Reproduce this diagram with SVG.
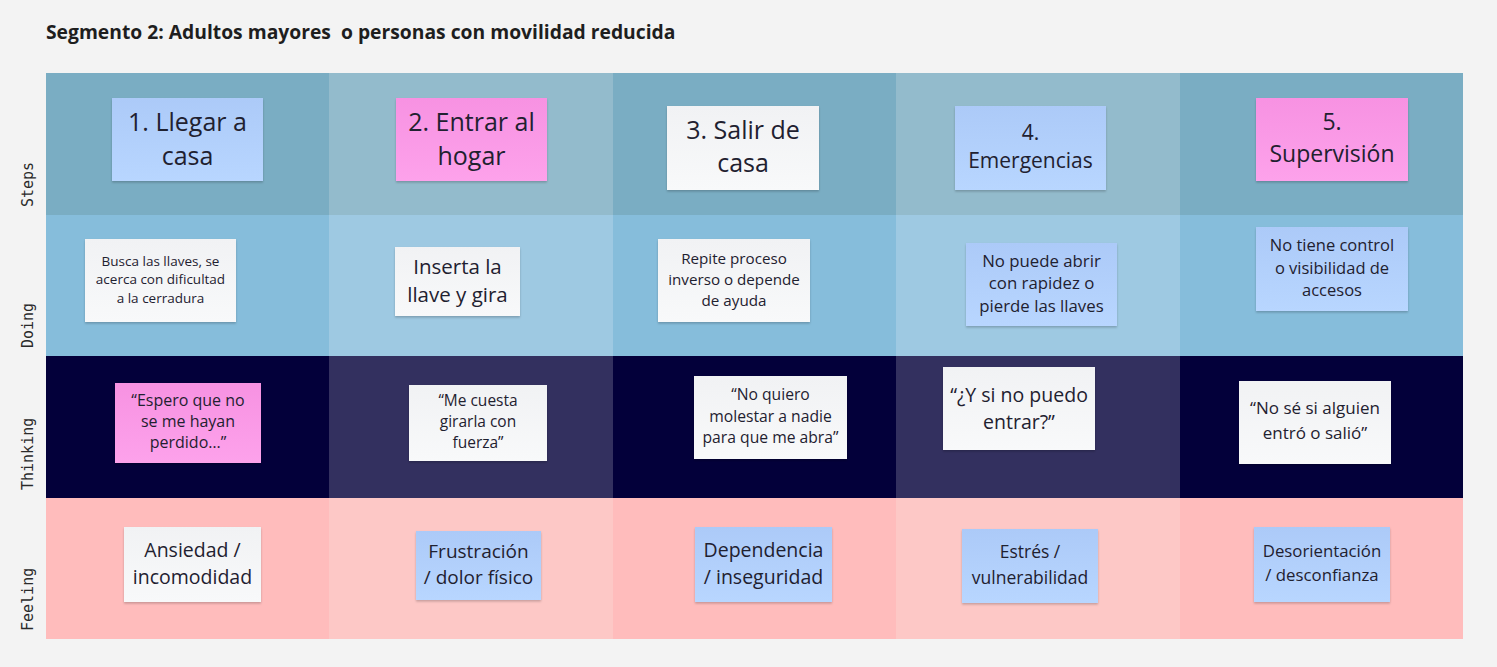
<svg xmlns="http://www.w3.org/2000/svg" width="1497" height="667" viewBox="0 0 1497 667">
<defs>
<linearGradient id="gBlue" x1="0" y1="0" x2="0" y2="1"><stop offset="0" stop-color="#accaf8"/><stop offset="1" stop-color="#b8d6ff"/></linearGradient>
<linearGradient id="gPink" x1="0" y1="0" x2="0" y2="1"><stop offset="0" stop-color="#f792e2"/><stop offset="1" stop-color="#fda2eb"/></linearGradient>
<linearGradient id="gWhite" x1="0" y1="0" x2="0" y2="1"><stop offset="0" stop-color="#f1f2f4"/><stop offset="1" stop-color="#f8f9fa"/></linearGradient>
<filter id="sh" x="-10%" y="-10%" width="120%" height="130%"><feDropShadow dx="0" dy="1.5" stdDeviation="1.2" flood-color="#000" flood-opacity="0.22"/></filter>
<style>
.title{font-family:"Open Sans","Noto Sans",sans-serif;font-weight:700;font-size:19.3px;fill:#1e1e1e;white-space:pre}
.lbl{font-family:"DejaVu Sans Mono","Liberation Mono",monospace;font-size:15px;fill:#2a2a2a}
.t{font-family:"Open Sans","Noto Sans",sans-serif;fill:#1f2130;text-anchor:middle}
.blue{fill:url(#gBlue);filter:url(#sh)}
.pink{fill:url(#gPink);filter:url(#sh)}
.white{fill:url(#gWhite);filter:url(#sh)}
</style>
</defs>
<rect width="1497" height="667" fill="#f3f3f3"/>
<text class="title" x="46" y="39" xml:space="preserve">Segmento 2: Adultos mayores  o personas con movilidad reducida</text>
<g id="grid">
<rect x="46" y="73" width="1417" height="142" fill="#7aadc3"/>
<rect x="329" y="73" width="284" height="142" fill="#93bbcc"/>
<rect x="896" y="73" width="284" height="142" fill="#93bbcc"/>
<rect x="46" y="215" width="1417" height="141" fill="#86bddb"/>
<rect x="329" y="215" width="284" height="141" fill="#9ec9e2"/>
<rect x="896" y="215" width="284" height="141" fill="#9ec9e2"/>
<rect x="46" y="356" width="1417" height="142" fill="#03003a"/>
<rect x="329" y="356" width="284" height="142" fill="#33305f"/>
<rect x="896" y="356" width="284" height="142" fill="#33305f"/>
<rect x="46" y="498" width="1417" height="141" fill="#ffbcbc"/>
<rect x="329" y="498" width="284" height="141" fill="#fdc8c6"/>
<rect x="896" y="498" width="284" height="141" fill="#fdc8c6"/>
</g>
<g id="row-labels">
<text class="lbl" transform="translate(33,207) rotate(-90)">Steps</text>
<text class="lbl" transform="translate(33,348) rotate(-90)">Doing</text>
<text class="lbl" transform="translate(33,490) rotate(-90)">Thinking</text>
<text class="lbl" transform="translate(33,631) rotate(-90)">Feeling</text>
</g>
<g id="connectors"></g>
<g id="s1"><rect class="blue" x="112" y="98" width="151" height="83"/><text class="t" font-size="25"><tspan x="187.5" y="131">1. Llegar a</tspan><tspan x="187.5" y="165">casa</tspan></text></g>
<g id="s2"><rect class="pink" x="396" y="98" width="151" height="83"/><text class="t" font-size="25"><tspan x="471.5" y="131">2. Entrar al</tspan><tspan x="471.5" y="165">hogar</tspan></text></g>
<g id="s3"><rect class="white" x="667" y="106" width="152" height="84"/><text class="t" font-size="25"><tspan x="743" y="138.5">3. Salir de</tspan><tspan x="743" y="172">casa</tspan></text></g>
<g id="s4"><rect class="blue" x="955" y="106" width="151" height="84"/><text class="t" font-size="21"><tspan x="1030.5" y="140">4.</tspan><tspan x="1030.5" y="168">Emergencias</tspan></text></g>
<g id="s5"><rect class="pink" x="1256" y="98" width="152" height="83"/><text class="t" font-size="23"><tspan x="1332" y="130">5.</tspan><tspan x="1332" y="162">Supervisión</tspan></text></g>
<g id="d1"><rect class="white" x="85" y="239" width="151" height="83"/><text class="t" font-size="13.5"><tspan x="160.5" y="266">Busca las llaves, se</tspan><tspan x="160.5" y="284.3">acerca con dificultad</tspan><tspan x="160.5" y="302.6">a la cerradura</tspan></text></g>
<g id="d2"><rect class="white" x="395" y="247" width="125" height="69"/><text class="t" font-size="20.5"><tspan x="457.5" y="274">Inserta la</tspan><tspan x="457.5" y="302">llave y gira</tspan></text></g>
<g id="d3"><rect class="white" x="658" y="239" width="152" height="83"/><text class="t" font-size="15.2"><tspan x="734" y="263.5">Repite proceso</tspan><tspan x="734" y="284.8">inverso o depende</tspan><tspan x="734" y="306">de ayuda</tspan></text></g>
<g id="d4"><rect class="blue" x="966" y="243" width="151" height="83"/><text class="t" font-size="16.8"><tspan x="1041.5" y="266.5">No puede abrir</tspan><tspan x="1041.5" y="289.2">con rapidez o</tspan><tspan x="1041.5" y="312">pierde las llaves</tspan></text></g>
<g id="d5"><rect class="blue" x="1256" y="227" width="152" height="84"/><text class="t" font-size="16.5"><tspan x="1332" y="251">No tiene control</tspan><tspan x="1332" y="273.5">o visibilidad de</tspan><tspan x="1332" y="296">accesos</tspan></text></g>
<g id="t1"><rect class="pink" x="115" y="383" width="146" height="80"/><text class="t" font-size="16"><tspan x="188" y="405.7">“Espero que no</tspan><tspan x="188" y="427">se me hayan</tspan><tspan x="188" y="448.2">perdido…”</tspan></text></g>
<g id="t2"><rect class="white" x="409" y="385" width="138" height="76"/><text class="t" font-size="15.5"><tspan x="478" y="406">“Me cuesta</tspan><tspan x="478" y="427">girarla con</tspan><tspan x="478" y="448">fuerza”</tspan></text></g>
<g id="t3"><rect class="white" x="694" y="376" width="153" height="83"/><text class="t" font-size="15.7"><tspan x="770.5" y="400">“No quiero</tspan><tspan x="770.5" y="421.5">molestar a nadie</tspan><tspan x="770.5" y="443">para que me abra”</tspan></text></g>
<g id="t4"><rect class="white" x="943" y="367" width="152" height="83"/><text class="t" font-size="19.5"><tspan x="1019" y="401.7">“¿Y si no puedo</tspan><tspan x="1019" y="428.5">entrar?”</tspan></text></g>
<g id="t5"><rect class="white" x="1239" y="381" width="152" height="83"/><text class="t" font-size="17"><tspan x="1315" y="414">“No sé si alguien</tspan><tspan x="1315" y="439">entró o salió”</tspan></text></g>
<g id="f1"><rect class="white" x="124" y="527" width="137" height="75"/><text class="t" font-size="19.5"><tspan x="192.5" y="557">Ansiedad /</tspan><tspan x="192.5" y="584">incomodidad</tspan></text></g>
<g id="f2"><rect class="blue" x="416" y="531" width="125" height="69"/><text class="t" font-size="19"><tspan x="478.5" y="558.3">Frustración</tspan><tspan x="478.5" y="584">/ dolor físico</tspan></text></g>
<g id="f3"><rect class="blue" x="695" y="527" width="137" height="75"/><text class="t" font-size="19.5"><tspan x="763.5" y="557">Dependencia</tspan><tspan x="763.5" y="584">/ inseguridad</tspan></text></g>
<g id="f4"><rect class="blue" x="962" y="529" width="136" height="74"/><text class="t" font-size="17.5"><tspan x="1030" y="558.3">Estrés /</tspan><tspan x="1030" y="584">vulnerabilidad</tspan></text></g>
<g id="f5"><rect class="blue" x="1254" y="527" width="136" height="75"/><text class="t" font-size="16.8"><tspan x="1322" y="557">Desorientación</tspan><tspan x="1322" y="581">/ desconfianza</tspan></text></g>
</svg>
